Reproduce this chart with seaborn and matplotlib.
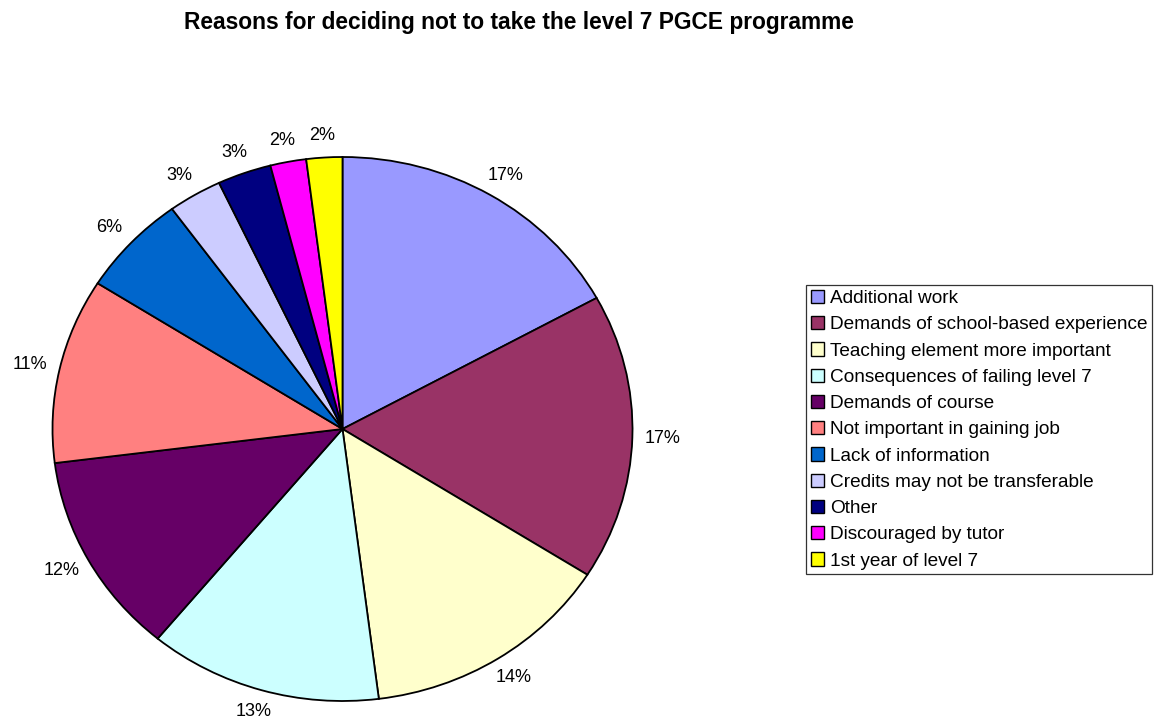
import matplotlib
matplotlib.use("Agg")
import matplotlib.pyplot as plt
import numpy as np
import seaborn as sns

# Survey responses (percent of respondents)
reasons = [
    "Additional work",
    "Demands of school-based experience",
    "Teaching element more important",
    "Consequences of failing level 7",
    "Demands of course",
    "Not important in gaining job",
    "Lack of information",
    "Credits may not be transferable",
    "Other",
    "Discouraged by tutor",
    "1st year of level 7",
]
percentages = [17, 17, 14, 13, 12, 11, 6, 3, 3, 2, 2]
slice_colors = [
    "#9999FF", "#993366", "#FFFFCC", "#CCFFFF", "#660066", "#FF8080",
    "#0066CC", "#CCCCFF", "#000080", "#FF00FF", "#FFFF00",
]
title = "Reasons for deciding not to take the level 7 PGCE programme"

sns.set_theme(style="white")
plt.rcParams["font.family"] = ["Liberation Sans", "DejaVu Sans"]
plt.rcParams["text.color"] = "black"

W, H = 1160, 722
fig = plt.figure(figsize=(W / 100, H / 100), dpi=100)
fig.patch.set_facecolor("white")

# Slightly elliptical pie area
cx, cy, rx, ry = 342.5, 429, 290, 272
ax = fig.add_axes([(cx - rx) / W, (H - cy - ry) / H, 2 * rx / W, 2 * ry / H])

palette = sns.color_palette(slice_colors)
wedges, _ = ax.pie(
    percentages,
    colors=palette,
    startangle=90,
    counterclock=False,
    radius=1.0,
    wedgeprops=dict(edgecolor="black", linewidth=1.3),
)
ax.set_aspect("auto")
ax.set_xlim(-1, 1)
ax.set_ylim(-1, 1)
ax.axis("off")

# Percentage labels just outside each slice, kept inside the figure
fig.canvas.draw()
off_x, off_y = 30, 22
for w, v in zip(wedges, percentages):
    mid = np.deg2rad((w.theta1 + w.theta2) / 2)
    c, s = np.cos(mid), np.sin(mid)
    px, py = ax.transData.transform((c, s))
    px += off_x * c
    py += off_y * s
    px = min(max(px, 18), W - 18)
    py = min(max(py, 10), H - 10)
    fig.text(px / W, py / H, f"{v}%", ha="center", va="center",
             fontsize=13, color="black")

fig.text(519 / W, 1 - 22 / H, title, ha="center", va="center",
         fontsize=16.4, fontweight="bold", color="black")

leg = fig.legend(
    wedges,
    reasons,
    loc="upper left",
    bbox_to_anchor=(806 / W, 1 - 285 / H),
    frameon=True,
    fancybox=False,
    shadow=False,
    fontsize=13.7,
    handlelength=0.7,
    handleheight=0.7,
    handletextpad=0.3,
    labelspacing=0.47,
    borderpad=0.25,
    borderaxespad=0,
)
leg.get_frame().set_edgecolor("black")
leg.get_frame().set_linewidth(0.9)
for t in leg.get_texts():
    t.set_color("black")
for h in leg.legend_handles:
    h.set_linewidth(1.0)

fig.savefig("out.png", dpi=100, facecolor="white")
